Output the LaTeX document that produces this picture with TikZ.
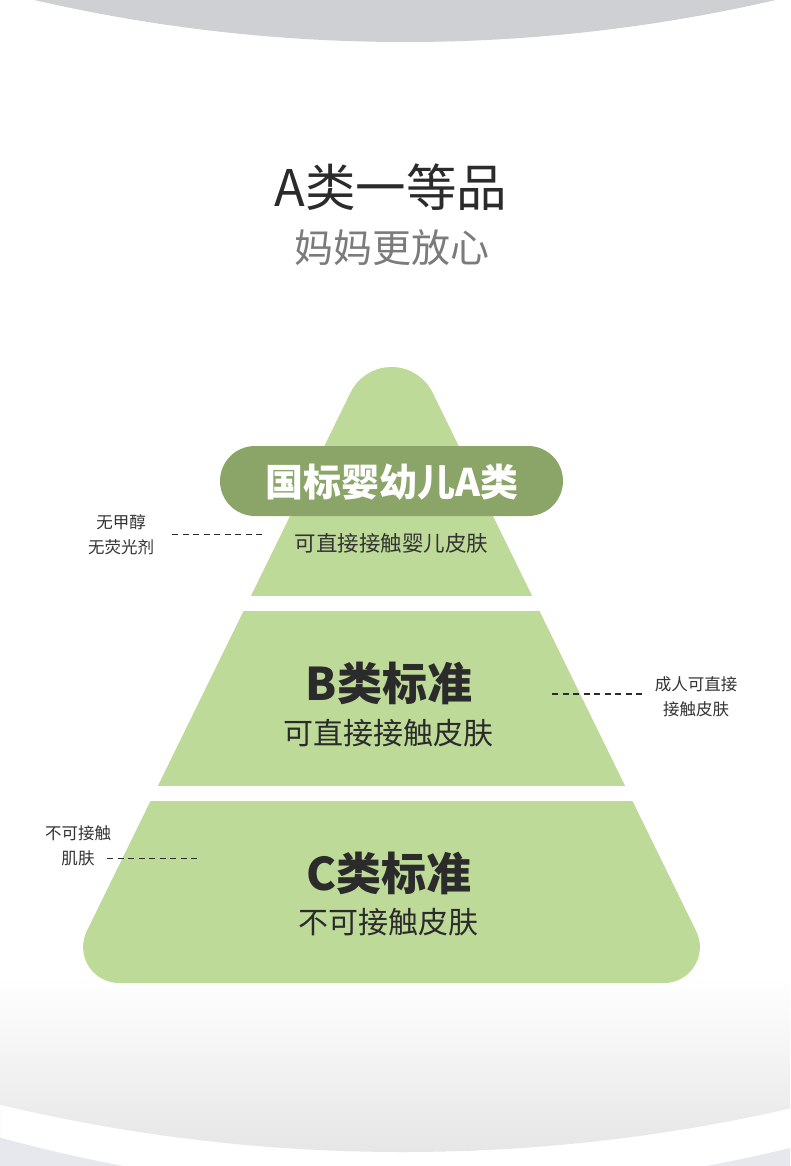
\documentclass[tikz,border=0pt]{standalone}
\usepackage{fontspec}
\setmainfont{Noto Sans CJK SC}
\definecolor{topgray}{HTML}{CFD0D4}
\definecolor{pyrgreen}{HTML}{BEDA98}
\definecolor{pillgreen}{HTML}{8AA567}
\definecolor{titlecol}{HTML}{2B2B2B}
\definecolor{subcol}{HTML}{7B7B7B}
\definecolor{txtcol}{HTML}{333333}
\definecolor{botgray}{HTML}{E4E4E4}
\definecolor{cornergray}{HTML}{E6E8EE}
\tikzset{
  sidelabel/.style={font=\fontsize{16.5}{25}\selectfont, text=txtcol, align=center, inner sep=0pt},
  dashline/.style={draw=titlecol, line width=1.8pt, dash pattern=on 6pt off 4.5pt},
  tiertitle/.style={font=\fontsize{45}{50}\bfseries\selectfont, text=titlecol, inner sep=0pt},
  tiersub/.style={font=\fontsize{30}{34}\selectfont, text=titlecol, inner sep=0pt},
}
\begin{document}
\begin{tikzpicture}[x=1pt,y=-1pt]
\useasboundingbox (0,0) rectangle (790,1166);
\fill[white] (0,0) rectangle (790,1166);
\begin{scope}
  \clip (0,0) rectangle (790,1166);
  % top gray arc
  \fill[topgray] (405,-1600) circle[radius=1642];
  % bottom gradient
  \begin{scope}
    \clip (403,-574) circle[radius=1726];
    \shade[top color=white, bottom color=botgray] (0,975) rectangle (790,1166);
  \end{scope}
  % bottom corner gray
  \begin{scope}
    \clip (0,1110) rectangle (790,1166);
    \fill[cornergray, even odd rule] (0,1110) rectangle (790,1166) (415,-378) circle[radius=1571];
  \end{scope}
\end{scope}

% titles
\node[font=\fontsize{50.5}{54}\selectfont, text=titlecol, inner sep=0pt] (title) at (391,187) {A类一等品};
\node[font=\fontsize{39}{44}\selectfont, text=subcol, inner sep=0pt] (subtitle) at (392,248) {妈妈更放心};

% pyramid
\fill[pyrgreen] (391.5,983) -- (119.1,983)
  arc[start angle=90, end angle=206.1, radius=36]
  -- (350.5,392.6)
  arc[start angle=206.1, end angle=333.9, radius=45.7]
  -- (696.2,931.2)
  arc[start angle=333.9, end angle=450, radius=36]
  -- cycle;
\fill[white] (0,595.5) rectangle (790,611);
\fill[white] (0,786) rectangle (790,801);

% pill
\fill[pillgreen, rounded corners=35pt] (220,446) rectangle (563,516);
\node[font=\fontsize{38}{42}\bfseries\selectfont, text=white, inner sep=0pt] (pill) at (392,482) {国标婴幼儿A类};
\node[font=\fontsize{21.5}{24}\selectfont, text=txtcol, inner sep=0pt] (asub) at (391.5,543) {可直接接触婴儿皮肤};

\node[tiertitle] (btitle) at (389,683) {B类标准};
\node[tiersub] (bsub) at (388,733) {可直接接触皮肤};
\node[tiertitle] (ctitle) at (389,873) {C类标准};
\node[tiersub] (csub) at (388,922) {不可接触皮肤};

% side labels
\node[sidelabel] (l1) at (121,535) {无甲醇\\无荧光剂};
\coordinate (l1a) at (172,534.5);
\coordinate (l1b) at (264,534.5);
\draw[dashline] (l1a) -- (l1b);

\node[sidelabel] (r1) at (696,697) {成人可直接\\接触皮肤};
\coordinate (r1a) at (552,694);
\coordinate (r1b) at (643,694);
\draw[dashline] (r1a) -- (r1b);

\node[sidelabel] (l2) at (78,846) {不可接触\\肌肤};
\coordinate (l2a) at (107,858.5);
\coordinate (l2b) at (199,858.5);
\draw[dashline] (l2a) -- (l2b);
\end{tikzpicture}
\end{document}
